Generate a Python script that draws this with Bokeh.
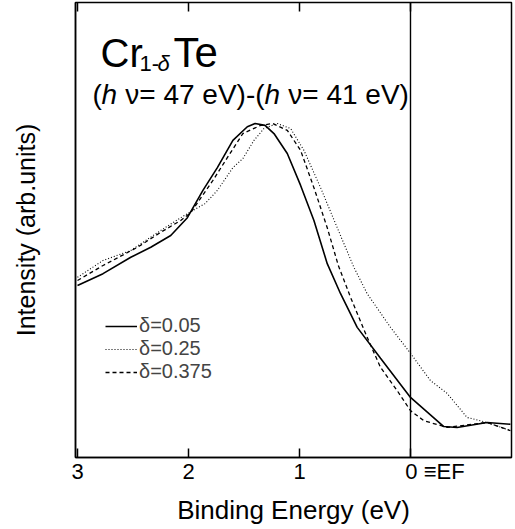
from bokeh.plotting import figure
from bokeh.models import Range1d, LinearAxis, Span, Label, Legend, LegendItem, FixedTicker
from bokeh.embed import file_html
from bokeh.resources import INLINE

# Binding energy (eV) and intensity (arb. units)
energy_005 = [3.0, 2.77, 2.52, 2.34, 2.16, 2.01, 1.87, 1.74, 1.60, 1.47, 1.40, 1.31, 1.23, 1.11,
              0.99, 0.87, 0.75, 0.63, 0.48, 0.27, 0.0, -0.30, -0.42, -0.69, -0.90]
intensity_005 = [37.8, 40.4, 44.0, 46.2, 48.8, 52.7, 58.7, 63.7, 69.7, 72.7, 73.4, 73.0, 71.2, 66.8,
                 59.8, 52.1, 42.6, 36.0, 28.6, 21.8, 13.2, 6.8, 6.6, 7.7, 7.3]

energy_025 = [3.0, 2.77, 2.52, 2.25, 2.07, 1.96, 1.85, 1.74, 1.60, 1.51, 1.41, 1.32, 1.20, 1.08, 0.96,
              0.81, 0.66, 0.51, 0.39, 0.18, 0.0, -0.18, -0.33, -0.51, -0.69, -0.90]
intensity_025 = [39.6, 43.3, 45.5, 49.9, 52.7, 54.3, 55.8, 58.7, 63.7, 65.7, 69.7, 72.3, 73.4, 72.3, 67.5,
                 59.3, 50.5, 41.8, 36.0, 28.6, 22.9, 16.9, 14.1, 8.8, 7.7, 5.9]

energy_0375 = [3.0, 2.77, 2.46, 2.25, 2.07, 1.98, 1.78, 1.65, 1.51, 1.35, 1.24, 1.11, 0.99, 0.87,
               0.75, 0.65, 0.54, 0.39, 0.27, 0.12, 0.0, -0.12, -0.33, -0.69, -0.90]
intensity_0375 = [38.9, 42.2, 46.2, 49.5, 52.1, 53.8, 60.9, 65.9, 71.2, 73.0, 73.4, 71.9, 67.5, 59.3,
                  50.5, 42.2, 35.2, 26.4, 19.8, 14.7, 10.3, 8.1, 6.6, 7.7, 5.9]

series_labels = ["δ=0.05", "δ=0.25", "δ=0.375"]
tick_values = [3, 2, 1, 0]
NBSP = "\u00a0"
tick_labels = {3: "3", 2: "2", 1: "1", 0: NBSP * 8 + "0" + NBSP + "≡EF"}

X_LEFT, X_RIGHT = 3.018, -0.91
FRAME_L, FRAME_R, FRAME_T, FRAME_B = 75, 511, 2, 457
FONT = "Liberation Sans"


def px2x(px):
    return X_LEFT + (px - FRAME_L) * (X_RIGHT - X_LEFT) / (FRAME_R - FRAME_L)


def py2y(py):
    return (FRAME_B - py) * 100.0 / (FRAME_B - FRAME_T)


p = figure(frame_width=FRAME_R - FRAME_L, frame_height=FRAME_B - FRAME_T,
           output_backend="svg", toolbar_location=None,
           x_range=Range1d(X_LEFT, X_RIGHT), y_range=Range1d(0, 100),
           min_border_left=FRAME_L, min_border_right=515 - FRAME_R,
           min_border_top=FRAME_T, min_border_bottom=529 - FRAME_B)
p.grid.visible = False
p.outline_line_color = "black"
p.outline_line_width = 1.5
p.background_fill_color = "white"
p.border_fill_color = "white"

r1 = p.line(energy_005, intensity_005, line_color="black", line_width=1.6)
r2 = p.line(energy_025, intensity_025, line_color="black", line_width=1.1, line_dash="1 2")
r3 = p.line(energy_0375, intensity_0375, line_color="black", line_width=1.3, line_dash="4 3")

p.add_layout(Span(location=0, dimension="height", line_color="black", line_width=1.4))

# bottom axis
xa = p.xaxis[0]
xa.ticker = FixedTicker(ticks=tick_values, minor_ticks=[])
xa.major_label_overrides = tick_labels
xa.major_tick_in = 9
xa.major_tick_out = 0
xa.minor_tick_in = 0
xa.minor_tick_out = 0
xa.axis_line_width = 1.5
xa.major_tick_line_width = 1.5
xa.major_label_standoff = 1
xa.major_label_text_font = FONT
xa.major_label_text_font_size = "22px"
xa.major_label_text_color = "black"
xa.axis_label = "Binding Energy (eV)"
xa.axis_label_text_font = FONT
xa.axis_label_text_font_style = "normal"
xa.axis_label_text_font_size = "26px"
xa.axis_label_text_color = "black"
xa.axis_label_standoff = 8

# top axis (ticks only)
top = LinearAxis(ticker=FixedTicker(ticks=tick_values, minor_ticks=[]),
                 major_tick_in=9, major_tick_out=0, minor_tick_in=0, minor_tick_out=0,
                 major_tick_line_width=1.5, axis_line_color=None,
                 major_label_overrides={3: "", 2: "", 1: "", 0: ""},
                 major_label_text_font_size="1px", major_label_standoff=0)
p.add_layout(top, "above")

# left axis
ya = p.yaxis[0]
ya.ticker = FixedTicker(ticks=[], minor_ticks=[])
ya.major_label_standoff = 0
ya.major_tick_out = 0
ya.minor_tick_out = 0
ya.axis_line_width = 1.5
ya.axis_label = "Intensity (arb.units)"
ya.axis_label_text_font = FONT
ya.axis_label_text_font_style = "normal"
ya.axis_label_text_font_size = "25px"
ya.axis_label_text_color = "black"
ya.axis_label_standoff = 36

legend = Legend(items=[LegendItem(label=series_labels[0], renderers=[r1]),
                       LegendItem(label=series_labels[1], renderers=[r2]),
                       LegendItem(label=series_labels[2], renderers=[r3])],
                location=(30, 74), border_line_alpha=0, background_fill_alpha=0,
                label_text_font=FONT, label_text_font_size="20px",
                glyph_width=32, glyph_height=20, label_height=20, label_standoff=2,
                spacing=0, padding=0, margin=0)
p.add_layout(legend)


def add_text(txt, px, py, size, style="normal", align="left"):
    p.add_layout(Label(x=px2x(px), y=py2y(py), text=txt, text_font=FONT,
                       text_font_size=size, text_font_style=style, text_color="black",
                       text_baseline="alphabetic", text_align=align))


# title block
add_text("Cr", 100, 52, "40px")
add_text("1-", 139, 63, "22px")
add_text("δ", 157, 63, "22px", "italic")
add_text("Te", 173, 52, "42px")
add_text("(", 92, 94, "28px")
add_text("h", 101, 94, "28px", "italic")
add_text(NBSP + "ν= 47 eV)-(", 117, 94, "28px")
add_text("h", 264, 94, "28px", "italic")
add_text(NBSP + "ν= 41 eV)", 280, 94, "28px")

open("out.html", "w").write(file_html(p, INLINE))
